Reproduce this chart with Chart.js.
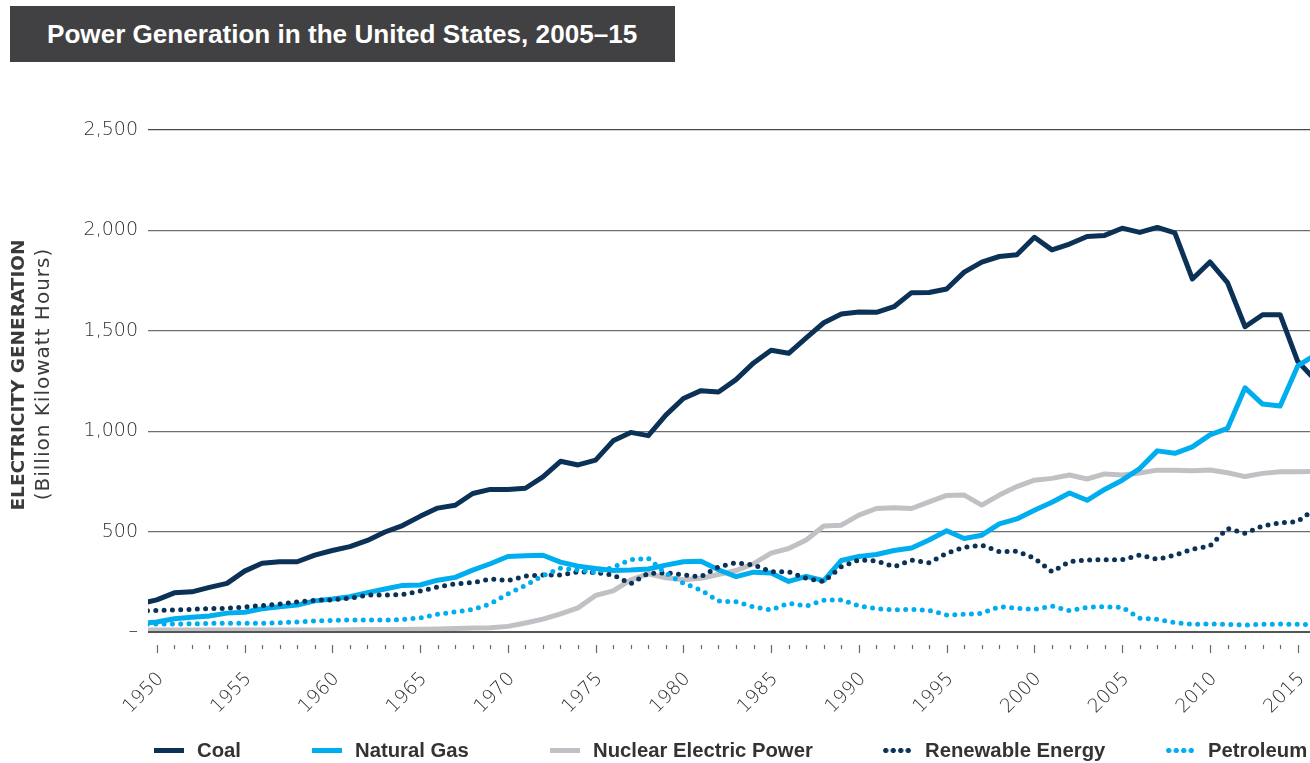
<!DOCTYPE html>
<html>
<head>
<meta charset="utf-8">
<script src="https://cdn.jsdelivr.net/npm/chart.js@4.4.1/dist/chart.umd.min.js"></script>
<style>
  html, body { margin:0; padding:0; background:#fff; }
  #wrap { position:relative; width:1310px; height:763px; overflow:hidden; background:#fff; }
  #c { position:absolute; left:0; top:0; }
  #title { position:absolute; left:10px; top:6px; width:665px; height:56px; background:#414042;
           color:#fff; font-family:"Liberation Sans", Arial, sans-serif; font-weight:bold; font-size:26.1px;
           line-height:56px; padding-left:37px; box-sizing:border-box; white-space:nowrap; }
  .ytitle { position:absolute; width:340px; height:26px; line-height:26px; text-align:center;
            transform:rotate(-90deg); white-space:nowrap; color:#3a3a3a; }
  #yt1 { left:-152px; top:362px; font-family:"DejaVu Sans", sans-serif; font-weight:bold; font-size:18.5px; }
  #yt2 { left:-128px; top:361px; font-family:"DejaVu Sans", sans-serif; font-size:20px; letter-spacing:1px; }
  #legend { position:absolute; left:0; top:737px; width:1310px; height:26px;
            font-family:"Liberation Sans", Arial, sans-serif; font-weight:bold; font-size:20.3px; color:#333; }
  #legend .item { position:absolute; top:0; height:26px; display:flex; align-items:center; white-space:nowrap; }
  #legend .sw { display:inline-block; width:30px; height:5px; margin-right:13px; }
</style>
</head>
<body>
<div id="wrap">
  <canvas id="c" width="1310" height="763"></canvas>
  <div id="title">Power Generation in the United States, 2005–15</div>
  <div class="ytitle" id="yt1">ELECTRICITY GENERATION</div>
  <div class="ytitle" id="yt2">(Billion Kilowatt Hours)</div>
  <div id="legend"></div>
</div>
<script>
// ---- Data (billion kWh) ----
const years = [1949,1950,1951,1952,1953,1954,1955,1956,1957,1958,1959,
  1960,1961,1962,1963,1964,1965,1966,1967,1968,1969,
  1970,1971,1972,1973,1974,1975,1976,1977,1978,1979,
  1980,1981,1982,1983,1984,1985,1986,1987,1988,1989,
  1990,1991,1992,1993,1994,1995,1996,1997,1998,1999,
  2000,2001,2002,2003,2004,2005,2006,2007,2008,2009,
  2010,2011,2012,2013,2014,2015,2016];

const coal = [140,160,195,200,222,242,303,342,350,350,383,
  406,425,456,498,530,576,617,631,690,710,
  710,716,773,850,832,856,952,994,978,1080,
  1163,1202,1195,1257,1340,1403,1388,1465,1540,1584,
  1594,1592,1620,1690,1691,1708,1792,1842,1870,1879,
  1966,1903,1932,1970,1975,2011,1990,2015,1988,1758,
  1843,1740,1520,1580,1580,1348,1255];

const naturalGas = [42,50,66,73,80,94,98,116,126,134,155,
  164,176,196,214,232,234,258,272,308,340,
  376,380,382,348,328,316,306,309,314,333,
  350,352,310,276,298,294,252,277,256,356,
  376,386,406,418,458,504,466,482,538,563,
  606,646,692,656,710,756,814,902,890,922,
  982,1014,1216,1135,1126,1325,1380];

const nuclear = [10,10,10,10,10,10,10,10,10,10,10,
  10,11,12,13,13,14,15,17,20,21,
  28,45,64,90,120,182,205,260,290,270,
  260,268,286,306,340,393,416,458,528,532,
  582,615,619,615,648,680,682,632,682,724,
  756,765,782,762,787,782,792,806,806,803,
  807,793,774,790,798,798,800];

const renewable = [104,107,110,113,116,118,124,132,139,150,158,
  160,168,184,184,186,204,224,240,246,264,
  256,278,284,284,300,296,284,240,292,295,
  284,275,325,345,334,300,300,267,251,325,
  359,354,325,358,345,392,422,433,400,403,
  367,300,350,359,360,360,383,362,383,412,
  428,516,491,528,544,550,615];

const petroleum = [38,40,40,41,43,43,43,44,46,50,55,
  58,60,60,60,62,70,88,100,112,140,
  190,232,280,318,309,296,322,360,367,292,
  243,209,154,151,125,110,143,129,158,160,
  130,116,110,113,108,85,88,93,126,118,
  113,129,106,123,126,123,68,63,46,38,
  40,38,35,38,40,38,36];

const seriesNames = ['Coal','Natural Gas','Nuclear Electric Power','Renewable Energy','Petroleum'];
const yTickValues = [0,500,1000,1500,2000,2500];
const xLabelYears = [1950,1955,1960,1965,1970,1975,1980,1985,1990,1995,2000,2005,2010,2015];
const xMinorYears = [1950,1951,1952,1953,1954,1955,1956,1957,1958,1959,1960,1961,1962,1963,1964,
  1965,1966,1967,1968,1969,1970,1971,1972,1973,1974,1975,1976,1977,1978,1979,1980,1981,1982,
  1983,1984,1985,1986,1987,1988,1989,1990,1991,1992,1993,1994,1995,1996,1997,1998,1999,2000,
  2001,2002,2003,2004,2005,2006,2007,2008,2009,2010,2011,2012,2013,2014,2015];

// ---- Styles / layout ----
const NAVY = '#0b3156', CYAN = '#00aeef', GREY = '#c1c1c5';
const styles = [
  {color:NAVY, dotted:false},
  {color:CYAN, dotted:false},
  {color:GREY, dotted:false},
  {color:NAVY, dotted:true},
  {color:CYAN, dotted:true}
];
const legendLeft = [154, 312, 550, 882, 1165];
const seriesValues = [coal, naturalGas, nuclear, renewable, petroleum];

const datasets = seriesValues.map((vals, i) => ({
  label: seriesNames[i],
  data: years.map((yr, j) => ({x: yr, y: vals[j]})),
  borderColor: styles[i].color,
  backgroundColor: styles[i].color,
  borderWidth: 5,
  borderDash: styles[i].dotted ? [0, 8.3] : [],
  borderCapStyle: styles[i].dotted ? 'round' : 'butt',
  borderJoinStyle: 'round',
  pointRadius: 0,
  tension: 0,
  fill: false,
  clip: {left:0, right:0, top:10, bottom:0},
  order: [4,3,5,2,1][i]
}));

const tickFont = {family:'"DejaVu Sans", sans-serif', size:19, weight:300};

const decoPlugin = {
  id:'deco',
  afterDatasetsDraw(chart) {
    const {ctx, chartArea, scales} = chart;
    const y0 = scales.y.getPixelForValue(0);
    ctx.save();
    ctx.strokeStyle = '#555';
    ctx.lineWidth = 2;
    ctx.beginPath();
    ctx.moveTo(chartArea.left, y0);
    ctx.lineTo(chartArea.right, y0);
    ctx.stroke();
    // tick marks below axis
    ctx.strokeStyle = '#6a6a6a';
    ctx.lineWidth = 1.2;
    xMinorYears.forEach(yr => {
      const x = Math.round(scales.x.getPixelForValue(yr)) + 0.5;
      const major = yr % 5 === 0;
      ctx.beginPath();
      ctx.moveTo(x, chartArea.bottom + 13);
      ctx.lineTo(x, chartArea.bottom + (major ? 21 : 17));
      ctx.stroke();
    });
    ctx.restore();
  }
};

new Chart(document.getElementById('c'), {
  type: 'line',
  data: { datasets },
  plugins: [decoPlugin],
  options: {
    responsive: false,
    animation: false,
    devicePixelRatio: 1,
    layout: { padding: {top:130, left:0, right:0, bottom:0} },
    plugins: { legend:{display:false}, title:{display:false}, tooltip:{enabled:false} },
    scales: {
      x: {
        type: 'linear',
        min: 1949.5, max: 2015.7,
        border: {display:false},
        grid: {display:false, drawTicks:false},
        afterBuildTicks: s => { s.ticks = xLabelYears.map(v => ({value:v})); },
        afterFit: s => { s.height = 131; s.paddingLeft = 0; s.paddingRight = 0; },
        ticks: {
          autoSkip:false, maxRotation:45, minRotation:45, padding:36, labelOffset:4,
          color:'#2f2f2f', font:tickFont,
          callback: v => String(v)
        }
      },
      y: {
        min: 0, max: 2500,
        border: {display:false},
        afterBuildTicks: s => { s.ticks = yTickValues.map(v => ({value:v})); },
        afterFit: s => { s.width = 148; s.paddingTop = 0; s.paddingBottom = 0; },
        grid: {
          drawTicks:false,
          color: c => (c.tick && (c.tick.value === 2500 || c.tick.value === 0)) ? '#4a4a4a' : '#6f6f6f',
          lineWidth: 1.2
        },
        ticks: {
          padding:10, color:'#2f2f2f', font:tickFont,
          callback: v => v === 0 ? '–' : v.toLocaleString('en-US')
        }
      }
    }
  }
});

// ---- HTML legend built from the series ----
const legend = document.getElementById('legend');
seriesNames.forEach((name, i) => {
  const item = document.createElement('div');
  item.className = 'item';
  item.style.left = legendLeft[i] + 'px';
  const sw = document.createElement('span');
  sw.className = 'sw';
  if (styles[i].dotted) {
    sw.style.background = `radial-gradient(circle, ${styles[i].color} 2.3px, rgba(255,255,255,0) 2.9px) 0 0 / 7.5px 5px repeat-x`;
  } else {
    sw.style.background = styles[i].color;
  }
  const tx = document.createElement('span');
  tx.textContent = name;
  item.appendChild(sw);
  item.appendChild(tx);
  legend.appendChild(item);
});
</script>
</body>
</html>
